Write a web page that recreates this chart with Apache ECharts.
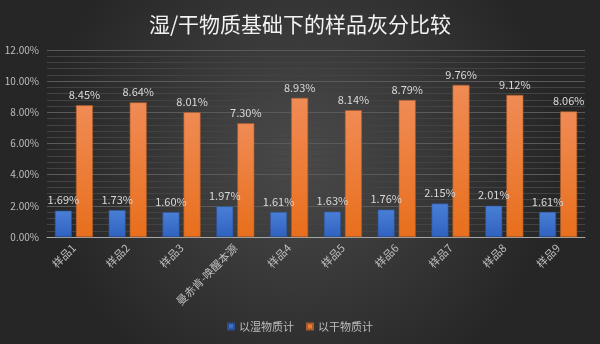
<!DOCTYPE html>
<html>
<head>
<meta charset="utf-8">
<script src="https://cdn.jsdelivr.net/npm/echarts@6/dist/echarts.min.js"></script>
<style>
  html, body { margin: 0; padding: 0; }
  #chart { width: 600px; height: 344px; }
</style>
</head>
<body>
<div id="chart"></div>
<script>
// Ash content per sample, on wet and dry basis (percent)
const categories = ['样品1', '样品2', '样品3', '曼赤肯-唤醒本源', '样品4', '样品5', '样品6', '样品7', '样品8', '样品9'];
const wetBasis = [1.69, 1.73, 1.60, 1.97, 1.61, 1.63, 1.76, 2.15, 2.01, 1.61];
const dryBasis = [8.45, 8.64, 8.01, 7.30, 8.93, 8.14, 8.79, 9.76, 9.12, 8.06];
const seriesNames = ['以湿物质计', '以干物质计'];

const FONT = '"Noto Sans CJK SC", "Noto Sans", sans-serif';
const pct = v => Number(v).toFixed(2) + '%';

function barGradient(top, bottom) {
  return new echarts.graphic.LinearGradient(0, 0, 0, 1, [
    { offset: 0, color: top },
    { offset: 1, color: bottom }
  ]);
}

const chart = echarts.init(document.getElementById('chart'));
chart.setOption({
  backgroundColor: {
    type: 'radial', x: 0.5, y: 0.45, r: 0.75,
    colorStops: [
      { offset: 0, color: '#4a4a4a' },
      { offset: 1, color: '#262626' }
    ]
  },
  title: {
    text: '湿/干物质基础下的样品灰分比较',
    left: 'center',
    top: 9,
    textStyle: { color: '#f2f2f2', fontSize: 21, fontWeight: 'normal', fontFamily: FONT }
  },
  legend: {
    bottom: 7,
    left: 'center',
    itemWidth: 6,
    itemHeight: 6,
    itemGap: 12,
    icon: 'rect',
    textStyle: { color: '#bfbfbf', fontSize: 11, fontFamily: FONT },
    data: seriesNames
  },
  grid: { left: 47, right: 15, top: 50, bottom: 107 },
  xAxis: {
    type: 'category',
    data: categories,
    axisLine: { lineStyle: { color: '#a6a6a6', width: 1 } },
    axisTick: { show: false },
    axisLabel: { color: '#bfbfbf', fontSize: 11, rotate: 45, interval: 0, margin: 9, fontFamily: FONT }
  },
  yAxis: {
    type: 'value',
    min: 0,
    max: 12,
    interval: 2,
    axisLine: { show: false },
    axisTick: { show: false },
    axisLabel: { color: '#bfbfbf', fontSize: 10, formatter: pct, margin: 8, fontFamily: FONT },
    splitLine: { lineStyle: { color: '#5a5a5a', width: 1 } },
    minorTick: { show: false, splitNumber: 5 },
    minorSplitLine: { show: true, lineStyle: { color: '#434343', width: 1 } }
  },
  series: [
    {
      name: seriesNames[0],
      type: 'bar',
      data: wetBasis,
      barWidth: 17,
      barGap: '24%',
      itemStyle: { color: barGradient('#4a7fd6', '#2f62c0'), borderColor: '#2b4f8f', borderWidth: 0.6 },
      label: { show: true, position: 'top', distance: 5, color: '#d9d9d9', fontSize: 11, formatter: p => pct(p.value), fontFamily: FONT }
    },
    {
      name: seriesNames[1],
      type: 'bar',
      data: dryBasis,
      barWidth: 17,
      itemStyle: { color: barGradient('#f08b55', '#e86f1c'), borderColor: '#a85a2a', borderWidth: 0.6 },
      label: { show: true, position: 'top', distance: 5, color: '#d9d9d9', fontSize: 11, formatter: p => pct(p.value), fontFamily: FONT }
    }
  ]
});
</script>
</body>
</html>
